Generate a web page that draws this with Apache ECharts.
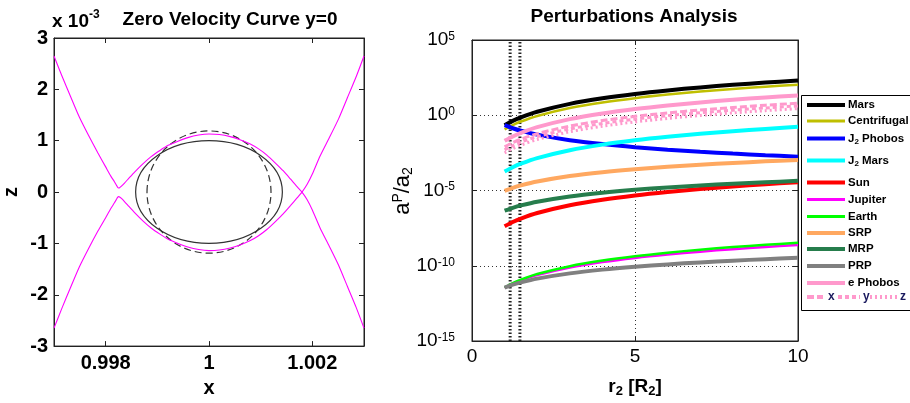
<!DOCTYPE html>
<html>
<head>
<meta charset="utf-8">
<script src="https://cdn.jsdelivr.net/npm/echarts@6/dist/echarts.min.js"></script>
<style>
html, body { margin: 0; padding: 0; background: #fff; }
#c { width: 910px; height: 403px; }
</style>
</head>
<body>
<div id="c"></div>
<script>
// ---------- Zero velocity curve, plane y = 0 (x normalized, z in units of 1e-3) ----------
const zvcUpperBranch = [
  [0.99700, 2.65], [0.99715, 2.27], [0.99732, 1.86], [0.99749, 1.46], [0.99767, 1.10],
  [0.99785, 0.76], [0.99800, 0.49], [0.99810, 0.31], [0.99817, 0.20], [0.99821, 0.13],
  [0.99823, 0.095], [0.99825, 0.08], [0.99827, 0.085], [0.99830, 0.11], [0.99836, 0.17],
  [0.99845, 0.27], [0.99856, 0.39], [0.99872, 0.55],
  [0.99888, 0.69], [0.99905, 0.81], [0.99921, 0.91], [0.99940, 0.99], [0.99959, 1.06],
  [0.99980, 1.11], [1.00000, 1.13], [1.00020, 1.12], [1.00041, 1.08], [1.00060, 1.02],
  [1.00079, 0.94], [1.00096, 0.84], [1.00112, 0.72], [1.00128, 0.57], [1.00144, 0.41],
  [1.00158, 0.25], [1.00170, 0.11], [1.00180, 0.00], [1.00190, -0.15], [1.00200, -0.35],
  [1.00215, -0.70], [1.00233, -1.06], [1.00251, -1.43], [1.00268, -1.84], [1.00285, -2.25],
  [1.00300, -2.65]
];
const zvcLowerBranch = [
  [0.99700, -2.65], [0.99715, -2.27], [0.99732, -1.86], [0.99749, -1.46], [0.99767, -1.10],
  [0.99785, -0.76], [0.99800, -0.50], [0.99810, -0.32], [0.99817, -0.21], [0.99821, -0.14],
  [0.99823, -0.105], [0.99825, -0.09], [0.99827, -0.095], [0.99830, -0.12], [0.99836, -0.18],
  [0.99845, -0.28], [0.99856, -0.40], [0.99872, -0.56],
  [0.99888, -0.70], [0.99905, -0.82], [0.99921, -0.92], [0.99940, -1.00], [0.99959, -1.07],
  [0.99980, -1.12], [1.00000, -1.14], [1.00020, -1.13], [1.00041, -1.09], [1.00060, -1.03],
  [1.00079, -0.95], [1.00096, -0.85], [1.00112, -0.73], [1.00128, -0.58], [1.00144, -0.42],
  [1.00158, -0.26], [1.00170, -0.12], [1.00180, 0.00], [1.00190, 0.15], [1.00200, 0.35],
  [1.00215, 0.70], [1.00233, 1.06], [1.00251, 1.43], [1.00268, 1.84], [1.00285, 2.25],
  [1.00300, 2.65]
];
// body outline and reference sphere: [cx, cz, semi-axis x, semi-axis z]
const bodyEllipse = [1.0, 0.0, 0.00142, 1.00];
const referenceSphere = [1.0, 0.0, 0.00120, 1.19];
const zvcXTicks = [0.998, 1, 1.002];

// ---------- Perturbation ratios versus distance ----------
const rValues = [1, 1.25, 1.5, 2, 3, 4, 5, 6, 7, 8, 9, 10];
const marsAcc = [0.219, 0.425, 0.730, 1.71, 5.71, 13.4, 26.1, 44.8, 70.8, 105, 149, 204];
const centrifugalAcc = [0.115, 0.223, 0.383, 0.90, 3.00, 7.05, 13.7, 23.5, 37.2, 55.2, 78.2, 107];
const j2PhobosAcc = [0.219, 0.137, 0.0938, 0.0514, 0.0220, 0.0121, 0.00757, 0.00518, 0.00375, 0.00284, 0.00222, 0.00178];
const j2MarsAcc = [1.82e-4, 3.53e-4, 6.07e-4, 1.43e-3, 4.75e-3, 0.0112, 0.0217, 0.0372, 0.0589, 0.0875, 0.124, 0.170];
const sunAcc = [4.17e-8, 8.02e-8, 1.37e-7, 3.18e-7, 1.04e-6, 2.42e-6, 4.66e-6, 7.94e-6, 1.25e-5, 1.85e-5, 2.60e-5, 3.55e-5];
const jupiterAcc = [3.39e-12, 6.40e-12, 1.08e-11, 2.44e-11, 7.74e-11, 1.76e-10, 3.33e-10, 5.58e-10, 8.67e-10, 1.27e-9, 1.77e-9, 2.40e-9];
const earthAcc = [3.55e-12, 6.90e-12, 1.19e-11, 2.80e-11, 9.35e-11, 2.21e-10, 4.30e-10, 7.38e-10, 1.17e-9, 1.74e-9, 2.47e-9, 3.39e-9];
const srpAcc = [9.55e-6, 1.51e-5, 2.19e-5, 3.95e-5, 9.08e-5, 1.64e-4, 2.59e-4, 3.76e-4, 5.15e-4, 6.78e-4, 8.63e-4, 1.07e-3];
const mrpAcc = [4.57e-7, 7.11e-7, 1.02e-6, 1.80e-6, 4.02e-6, 7.11e-6, 1.11e-5, 1.59e-5, 2.15e-5, 2.81e-5, 3.54e-5, 4.37e-5];
const prpAcc = [3.55e-12, 5.52e-12, 7.91e-12, 1.40e-11, 3.12e-11, 5.52e-11, 8.59e-11, 1.23e-10, 1.67e-10, 2.18e-10, 2.75e-10, 3.39e-10];
const ePhobosAcc = [0.0200, 0.0392, 0.0679, 0.162, 0.551, 1.31, 2.58, 4.47, 7.11, 10.6, 15.2, 20.9];
const ePhobosX = [7.94e-3, 0.0152, 0.0257, 0.0593, 0.192, 0.443, 0.845, 1.43, 2.24, 3.30, 4.65, 6.31];
const ePhobosY = [5.01e-3, 9.62e-3, 0.0164, 0.0379, 0.124, 0.287, 0.551, 0.938, 1.47, 2.17, 3.06, 4.17];
const ePhobosZ = [3.16e-3, 6.10e-3, 0.0104, 0.0243, 0.0798, 0.186, 0.359, 0.612, 0.964, 1.43, 2.02, 2.75];
const markerRadii = [1.17, 1.47];
const logTicks = [1e-15, 1e-10, 1e-5, 1, 1e5];

const FONT = '"Liberation Sans", Arial, Helvetica, sans-serif';

const perturbations = [
  { name: 'Mars', label: 'Mars', data: marsAcc, color: '#000000', width: 4 },
  { name: 'Centrifugal', label: 'Centrifugal', data: centrifugalAcc, color: '#bfbf00', width: 2.5 },
  { name: 'J2 Phobos', label: 'J{sub|2} Phobos', data: j2PhobosAcc, color: '#0000ff', width: 4 },
  { name: 'J2 Mars', label: 'J{sub|2} Mars', data: j2MarsAcc, color: '#00ffff', width: 4 },
  { name: 'Sun', label: 'Sun', data: sunAcc, color: '#ff0000', width: 4 },
  { name: 'Jupiter', label: 'Jupiter', data: jupiterAcc, color: '#ff00ff', width: 2.5 },
  { name: 'Earth', label: 'Earth', data: earthAcc, color: '#00ff00', width: 2.5 },
  { name: 'SRP', label: 'SRP', data: srpAcc, color: '#ffa860', width: 4 },
  { name: 'MRP', label: 'MRP', data: mrpAcc, color: '#267d4c', width: 4 },
  { name: 'PRP', label: 'PRP', data: prpAcc, color: '#808080', width: 4 },
  { name: 'e Phobos', label: 'e Phobos', data: ePhobosAcc, color: '#ff99cc', width: 4 }
];
const components = [
  { name: 'x', data: ePhobosX, dash: [7, 3] },
  { name: 'y', data: ePhobosY, dash: [4, 3] },
  { name: 'z', data: ePhobosZ, dash: [2, 3] }
];

const chart = echarts.init(document.getElementById('c'));

function ellipseRenderer(dash) {
  return function (params, api) {
    const c = api.coord([api.value(0), api.value(1)]);
    const s = api.size([api.value(2), api.value(3)], [api.value(0), api.value(1)]);
    return {
      type: 'ellipse',
      shape: { cx: c[0], cy: c[1], rx: s[0], ry: s[1] },
      style: { fill: 'none', stroke: '#333333', lineWidth: 1.2, lineDash: dash }
    };
  };
}

const axisLineStyle = { onZero: false, lineStyle: { color: '#222', width: 1 } };
const boldLabel = { fontFamily: FONT, fontWeight: 'bold', fontSize: 20, color: '#000' };

const logLabelRich = {
  b: { fontFamily: FONT, fontSize: 19, color: '#000', padding: [7, 0, 7, 0], lineHeight: 19 },
  s: { fontFamily: FONT, fontSize: 12, color: '#000', verticalAlign: 'top', lineHeight: 12 }
};

const series = [
  {
    type: 'line', xAxisIndex: 0, yAxisIndex: 0, data: zvcUpperBranch, showSymbol: false,
    smooth: 0.2, lineStyle: { color: '#ff00ff', width: 1.1 }, silent: true, z: 3
  },
  {
    type: 'line', xAxisIndex: 0, yAxisIndex: 0, data: zvcLowerBranch, showSymbol: false,
    smooth: 0.2, lineStyle: { color: '#ff00ff', width: 1.1 }, silent: true, z: 3
  },
  {
    type: 'custom', xAxisIndex: 0, yAxisIndex: 0, data: [bodyEllipse],
    encode: { x: 0, y: 1 }, renderItem: ellipseRenderer(null), silent: true, z: 2
  },
  {
    type: 'custom', xAxisIndex: 0, yAxisIndex: 0, data: [referenceSphere],
    encode: { x: 0, y: 1 }, renderItem: ellipseRenderer([7, 4]), silent: true, z: 2
  }
];

markerRadii.forEach(function (r) {
  series.push({
    type: 'line', xAxisIndex: 2, yAxisIndex: 2, showSymbol: false, silent: true,
    data: [[r, logTicks[0]], [r, logTicks[logTicks.length - 1]]],
    lineStyle: { color: '#222', width: 3, type: [1.5, 2] }, z: 1
  });
});

perturbations.forEach(function (p) {
  series.push({
    type: 'line', name: p.name, xAxisIndex: 2, yAxisIndex: 2, showSymbol: false, silent: true,
    smooth: 0.3, data: rValues.map(function (r, i) { return [r, p.data[i]]; }),
    lineStyle: { color: p.color, width: p.width }, z: 3
  });
});
components.forEach(function (c) {
  series.push({
    type: 'line', name: c.name, xAxisIndex: 2, yAxisIndex: 2, showSymbol: false, silent: true,
    smooth: 0.3, data: rValues.map(function (r, i) { return [r, c.data[i]]; }),
    lineStyle: { color: '#ff99cc', width: 3, type: c.dash }, z: 3
  });
});

// legend drawn as graphic elements
const legendGraphics = [];
const legendX = 801, legendTop = 95;
legendGraphics.push({
  type: 'rect', left: legendX, top: legendTop,
  shape: { x: 0, y: 0, width: 130, height: 215 },
  style: { fill: '#fff', stroke: '#000', lineWidth: 1 }, z: 10
});
const legendRows = [105, 121, 138.5, 160.5, 182.5, 199.5, 216.5, 233, 249, 266, 283];
perturbations.forEach(function (p, i) {
  const y = legendRows[i];
  legendGraphics.push({
    type: 'line', shape: { x1: 807, y1: y, x2: 845, y2: y },
    style: { stroke: p.color, lineWidth: p.width === 4 ? 4 : 3 }, z: 11
  });
  legendGraphics.push({
    type: 'text', x: 848, y: y,
    style: {
      text: p.label, fill: '#000', font: 'bold 11.5px ' + FONT, verticalAlign: 'middle',
      rich: {
        sub: { fontFamily: FONT, fontWeight: 'bold', fontSize: 8, padding: [7, 0, 0, 0] }
      }
    },
    z: 11
  });
});
const compRowY = 297;
const compSegments = [[807, 823, 828], [838, 860, 863], [870, 897, 900]];
components.forEach(function (c, i) {
  const seg = compSegments[i];
  legendGraphics.push({
    type: 'line', shape: { x1: seg[0], y1: compRowY, x2: seg[1], y2: compRowY },
    style: { stroke: '#ff99cc', lineWidth: 4, lineDash: c.dash }, z: 11
  });
  legendGraphics.push({
    type: 'text', x: seg[2], y: compRowY,
    style: { text: c.name, fill: '#1a1a5e', font: 'bold 12px ' + FONT, verticalAlign: 'middle' }, z: 11
  });
});

const option = {
  backgroundColor: '#ffffff',
  animation: false,
  textStyle: { fontFamily: FONT },
  grid: [
    { left: 52, top: 38, right: 546, bottom: 53, show: true, borderColor: '#222', borderWidth: 1, backgroundColor: '#fff' },
    { left: 472, top: 40, right: 112, bottom: 60, show: true, borderColor: '#222', borderWidth: 1, backgroundColor: '#fff' }
  ],
  xAxis: [
    {
      gridIndex: 0, type: 'value', min: 0.997, max: 1.003, position: 'bottom',
      name: 'x', nameLocation: 'middle', nameGap: 30,
      nameTextStyle: { fontFamily: FONT, fontWeight: 'bold', fontSize: 20, color: '#000' },
      axisLine: axisLineStyle, splitLine: { show: false },
      axisTick: { inside: true, length: 5, customValues: zvcXTicks, lineStyle: { color: '#222' } },
      axisLabel: Object.assign({ customValues: zvcXTicks, margin: 7 }, boldLabel)
    },
    {
      gridIndex: 0, type: 'value', min: 0.997, max: 1.003, position: 'top',
      axisLine: axisLineStyle, splitLine: { show: false },
      axisTick: { inside: true, length: 5, customValues: zvcXTicks, lineStyle: { color: '#222' } },
      axisLabel: { show: false }
    },
    {
      gridIndex: 1, type: 'value', min: 0, max: 10, interval: 5, position: 'bottom',
      name: 'r{sub|2} [R{sub|2}]', nameLocation: 'middle', nameGap: 34,
      nameTextStyle: {
        fontFamily: FONT, fontWeight: 'bold', fontSize: 19, color: '#000',
        rich: { sub: { fontFamily: FONT, fontWeight: 'bold', fontSize: 13, padding: [10, 0, 0, 0] } }
      },
      axisLine: axisLineStyle,
      splitLine: { show: true, lineStyle: { color: '#333', width: 1, type: [1, 3] } },
      axisTick: { inside: true, length: 5, lineStyle: { color: '#222' } },
      axisLabel: { fontFamily: FONT, fontSize: 19, color: '#000', margin: 6 }
    },
    {
      gridIndex: 1, type: 'value', min: 0, max: 10, interval: 5, position: 'top',
      axisLine: axisLineStyle, splitLine: { show: false },
      axisTick: { inside: true, length: 5, lineStyle: { color: '#222' } },
      axisLabel: { show: false }
    }
  ],
  yAxis: [
    {
      gridIndex: 0, type: 'value', min: -3, max: 3, interval: 1, position: 'left',
      name: 'z', nameLocation: 'middle', nameGap: 33, nameRotate: 90,
      nameTextStyle: { fontFamily: FONT, fontWeight: 'bold', fontSize: 20, color: '#000' },
      axisLine: axisLineStyle, splitLine: { show: false },
      axisTick: { inside: true, length: 5, lineStyle: { color: '#222' } },
      axisLabel: Object.assign({ margin: 6 }, boldLabel)
    },
    {
      gridIndex: 0, type: 'value', min: -3, max: 3, interval: 1, position: 'right',
      axisLine: axisLineStyle, splitLine: { show: false },
      axisTick: { inside: true, length: 5, lineStyle: { color: '#222' } },
      axisLabel: { show: false }
    },
    {
      gridIndex: 1, type: 'log', logBase: 10, min: 1e-15, max: 1e5, interval: 5, splitNumber: 4,
      position: 'left',
      axisLine: axisLineStyle,
      splitLine: { show: true, lineStyle: { color: '#333', width: 1, type: [1, 3] } },
      axisTick: { inside: true, length: 5, lineStyle: { color: '#222' } },
      axisLabel: {
        margin: 17,
        formatter: function (v) {
          return '{b|10}{s|' + Math.round(Math.log10(v)) + '}';
        },
        rich: logLabelRich
      }
    },
    {
      gridIndex: 1, type: 'log', logBase: 10, min: 1e-15, max: 1e5, interval: 5, splitNumber: 4,
      position: 'right',
      axisLine: axisLineStyle, splitLine: { show: false },
      axisTick: { inside: true, length: 5, lineStyle: { color: '#222' } },
      axisLabel: { show: false }
    }
  ],
  graphic: [
    {
      type: 'text', x: 230, y: 20, z: 5,
      style: {
        text: 'Zero Velocity Curve y=0', align: 'center', verticalAlign: 'middle',
        font: 'bold 19px ' + FONT, fill: '#000'
      }
    },
    {
      type: 'text', x: 634, y: 17, z: 5,
      style: {
        text: 'Perturbations Analysis', align: 'center', verticalAlign: 'middle',
        font: 'bold 19px ' + FONT, fill: '#000'
      }
    },
    {
      type: 'text', left: 52, top: 5, z: 5,
      style: {
        text: '{b|x 10}{s|-3}',
        rich: {
          b: { fontFamily: FONT, fontWeight: 'bold', fontSize: 19, color: '#000', padding: [7, 0, 0, 0], lineHeight: 19 },
          s: { fontFamily: FONT, fontWeight: 'bold', fontSize: 12, color: '#000', verticalAlign: 'top', lineHeight: 12 }
        }
      }
    },
    {
      type: 'text', x: 403, y: 191, rotation: Math.PI / 2, z: 5,
      style: {
        text: 'a{sup|P}/a{sub|2}', align: 'center', verticalAlign: 'middle',
        font: '22px ' + FONT, fill: '#000',
        rich: {
          sup: { fontFamily: FONT, fontSize: 14, padding: [0, 0, 10, 0] },
          sub: { fontFamily: FONT, fontSize: 14, padding: [10, 0, 0, 0] }
        }
      }
    }
  ].concat(legendGraphics),
  series: series
};

chart.setOption(option);
</script>
</body>
</html>
